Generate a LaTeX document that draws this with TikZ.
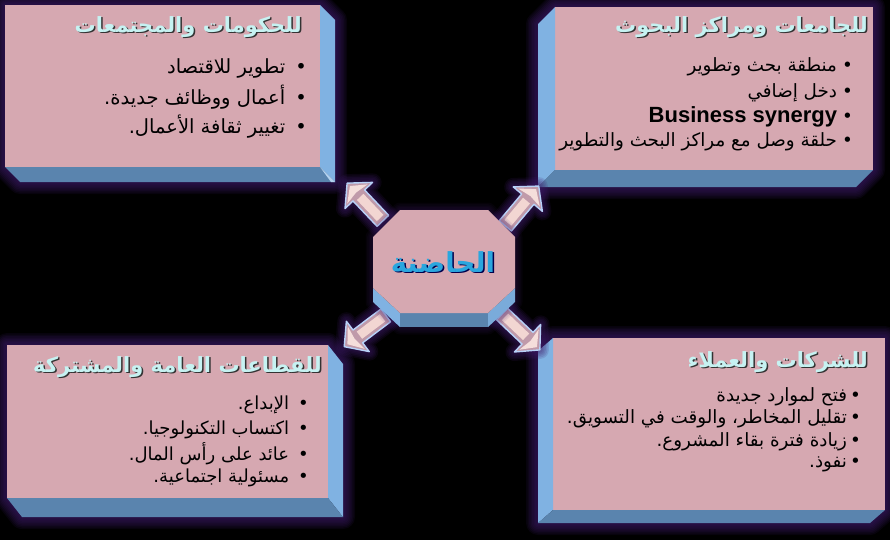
\documentclass[tikz,border=0pt]{standalone}
\usepackage{fontspec}
\TeXXeTstate=1
\newfontfamily\arabicfont[Script=Arabic]{DejaVu Sans}
\newfontfamily\latinfont{Liberation Sans}
\definecolor{pinkface}{HTML}{D6A8B1}
\definecolor{sideblue}{HTML}{80B2E2}
\definecolor{botblue}{HTML}{5A84AE}
\definecolor{glowc}{HTML}{401C6C}
\definecolor{titlecyan}{HTML}{C6F2F2}
\definecolor{centercyan}{HTML}{2AA6DE}
\definecolor{arrbody}{HTML}{C09AAA}
\definecolor{arrlight}{HTML}{F2D6D2}
\definecolor{arredge}{HTML}{B8D2F8}
\tikzset{
  front/.style={fill=pinkface},
  sideface/.style={fill=sideblue},
  botface/.style={fill=botblue},
  titletext/.style={font=\arabicfont\bfseries\fontsize{21}{25}\selectfont, text=titlecyan, anchor=east, inner sep=0pt},
  titleshadow/.style={font=\arabicfont\bfseries\fontsize{21}{25}\selectfont, text=black!80, anchor=east, inner sep=0pt},
  bullet/.style={font=\arabicfont\fontsize{#1}{#1}\selectfont, text=black, anchor=east, inner sep=0pt},
  bullet/.default=17,
}
\newcommand{\blt}[1]{•\hspace{#1}}
\begin{document}
\begin{tikzpicture}[x=1pt,y=-1pt]
\fill[black] (0,0) rectangle (890,540);
\useasboundingbox (0,0) rectangle (890,540);

% ---------- glows ----------
\foreach \g in {3,6,...,24}{
  \draw[glowc, opacity=0.12, line width=\g pt, line join=round]
    (5,5) -- (320,5) -- (335,20) -- (335,182) -- (20,182) -- (5,167) -- cycle;
  \draw[glowc, opacity=0.12, line width=\g pt, line join=round]
    (555,7) -- (873,7) -- (873,170) -- (856,187) -- (538,187) -- (538,24) -- cycle;
  \draw[glowc, opacity=0.12, line width=\g pt, line join=round]
    (7,345) -- (328,345) -- (343,364) -- (343,517) -- (22,517) -- (7,498) -- cycle;
  \draw[glowc, opacity=0.12, line width=\g pt, line join=round]
    (553,338) -- (885,338) -- (885,510) -- (870,523) -- (538,523) -- (538,351) -- cycle;
}

% ---------- top-left box ----------
\fill[front] (5,5) rectangle (320,167);
\fill[sideface] (320,5) -- (335,20) -- (335,182) -- (320,167) -- cycle;
\fill[botface] (5,167) -- (320,167) -- (335,182) -- (20,182) -- cycle;
\fill[sideblue!60!white] (320,167) -- (335,182) -- (331,182) -- cycle;

% ---------- top-right box ----------
\fill[front] (555,7) rectangle (873,170);
\fill[sideface] (555,7) -- (538,24) -- (538,187) -- (555,170) -- cycle;
\fill[botface] (555,170) -- (873,170) -- (856,187) -- (538,187) -- cycle;

% ---------- bottom-left box ----------
\fill[front] (7,345) rectangle (328,498);
\fill[sideface] (328,345) -- (343,364) -- (343,517) -- (328,498) -- cycle;
\fill[botface] (7,498) -- (328,498) -- (343,517) -- (22,517) -- cycle;

% ---------- bottom-right box ----------
\fill[front] (553,338) rectangle (885,510);
\fill[sideface] (553,338) -- (538,351) -- (538,523) -- (553,510) -- cycle;
\fill[botface] (553,510) -- (885,510) -- (870,523) -- (538,523) -- cycle;

% ---------- arrows ----------
\foreach \px/\py/\ang in {365/202/133.5, 522/206/50, 365/331/217, 521/332/-43.5}{
  \begin{scope}[shift={(\px,\py)}, rotate=\ang]
    \foreach \g in {3,6,...,18}{
      \draw[glowc, opacity=0.14, line width=\g pt, line join=round]
        (-26,-8) -- (9,-8) -- (9,-19) -- (26,0) -- (9,19) -- (9,8) -- (-26,8) -- cycle;
    }
    \filldraw[fill=arrbody, draw=arredge, line width=1.4pt, line join=round]
      (-26,-8) -- (9,-8) -- (9,-19) -- (26,0) -- (9,19) -- (9,8) -- (-26,8) -- cycle;
    \fill[arrlight] (-22,-4.5) rectangle (7,4.5);
    \fill[arrlight!80!white] (11,-14) -- (22,0) -- (11,14) -- (13,0) -- cycle;
  \end{scope}
}

% ---------- centre octagon ----------
\foreach \g in {3,6,...,15}{
  \draw[glowc, opacity=0.08, line width=\g pt, line join=round]
    (400,210) -- (488,210) -- (515,237) -- (515,302) -- (488,327) -- (400,327) -- (373,302) -- (373,237) -- cycle;
}
\fill[sideblue] (373,288) -- (400,313) -- (400,327) -- (373,302) -- cycle;
\fill[botblue] (400,313) -- (488,313) -- (488,327) -- (400,327) -- cycle;
\fill[sideblue!85!botblue] (488,313) -- (515,288) -- (515,302) -- (488,327) -- cycle;
\fill[front] (400,210) -- (488,210) -- (515,237) -- (515,288) -- (488,313) -- (400,313) -- (373,288) -- (373,237) -- cycle;
\node[font=\arabicfont\bfseries\fontsize{27.5}{32}\selectfont, text=black!70!blue, inner sep=0pt] (cs) at (444.5,263.5) {\beginR الحاضنة\endR};
\node[font=\arabicfont\bfseries\fontsize{27.5}{32}\selectfont, text=centercyan, inner sep=0pt] (ct) at (443,262) {\beginR الحاضنة\endR};

% ---------- top-left texts ----------
\node[titleshadow] (t1s) at (303.5,28.5) {\beginR للحكومات والمجتمعات\endR};
\node[titletext] (t1) at (302,27) {\beginR للحكومات والمجتمعات\endR};
\node[bullet=19.5] (a1) at (307,68) {\beginR\blt{10pt}تطوير للاقتصاد\endR};
\node[bullet=19.5] (a2) at (307,97) {\beginR\blt{10pt}أعمال ووظائف جديدة.\endR};
\node[bullet=19.5] (a3) at (307,127) {\beginR\blt{10pt}تغيير ثقافة الأعمال.\endR};

% ---------- top-right texts ----------
\node[titleshadow] (t2s) at (869.5,28.5) {\beginR للجامعات ومراكز البحوث\endR};
\node[titletext] (t2) at (868,27) {\beginR للجامعات ومراكز البحوث\endR};
\node[bullet=18.3] (b1) at (853,67) {\beginR\blt{5pt}منطقة بحث وتطوير\endR};
\node[bullet=18.3] (b2) at (853,93) {\beginR\blt{5pt}دخل إضافي\endR};
\node[bullet=18.3] (b3) at (853,117) {{\latinfont\bfseries\fontsize{22}{22}\selectfont Business synergy}\hspace{5pt}•};
\node[bullet=18.3] (b4) at (853,142) {\beginR\blt{5pt}حلقة وصل مع مراكز البحث والتطوير\endR};

% ---------- bottom-left texts ----------
\node[titleshadow] (t3s) at (323.5,368.5) {\beginR للقطاعات العامة والمشتركة\endR};
\node[titletext] (t3) at (322,367) {\beginR للقطاعات العامة والمشتركة\endR};
\node[bullet=18] (c1) at (309,405) {\beginR\blt{9pt}الإبداع.\endR};
\node[bullet=18] (c2) at (309,430) {\beginR\blt{9pt}اكتساب التكنولوجيا.\endR};
\node[bullet=18] (c3) at (309,454) {\beginR\blt{9pt}عائد على رأس المال.\endR};
\node[bullet=18] (c4) at (309,478) {\beginR\blt{9pt}مسئولية اجتماعية.\endR};

% ---------- bottom-right texts ----------
\node[titleshadow] (t4s) at (869.5,363.5) {\beginR للشركات والعملاء\endR};
\node[titletext] (t4) at (868,362) {\beginR للشركات والعملاء\endR};
\node[bullet=18.3] (d1) at (861,397) {\beginR\blt{3pt}فتح لموارد جديدة\endR};
\node[bullet=18.3] (d2) at (861,419) {\beginR\blt{3pt}تقليل المخاطر، والوقت في التسويق.\endR};
\node[bullet=18.3] (d3) at (861,442) {\beginR\blt{3pt}زيادة فترة بقاء المشروع.\endR};
\node[bullet=18.3] (d4) at (861,464) {\beginR\blt{3pt}نفوذ.\endR};
\end{tikzpicture}
\end{document}
